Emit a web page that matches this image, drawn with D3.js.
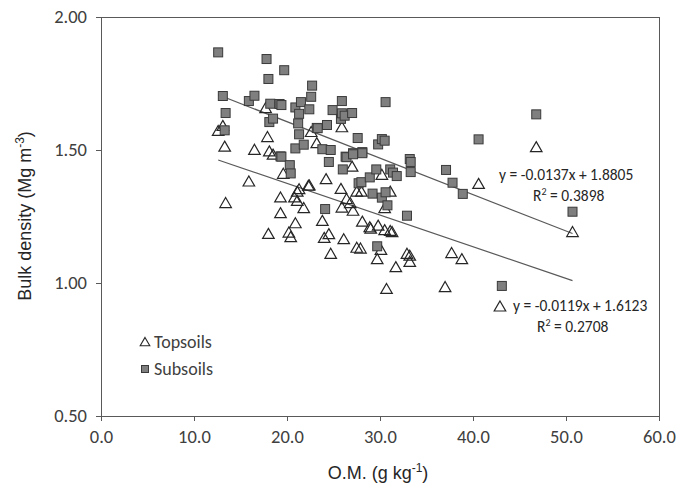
<!DOCTYPE html>
<html><head><meta charset="utf-8">
<script src="https://cdn.jsdelivr.net/npm/d3@7/dist/d3.min.js"></script>
<style>body{margin:0;background:#fff}svg{display:block}text{font-family:Carlito,Lato,"Open Sans",sans-serif}</style>
</head><body><svg id="c" width="682" height="489"></svg>
<script>
// Topsoils: organic matter (g/kg) and bulk density (Mg/m3)
const topOM = [12.6,13.1,13.3,13.4,15.9,16.5,17.7,17.9,18.0,18.1,18.5,19.3,19.3,19.6,20.2,20.4,20.8,20.9,21.1,21.1,21.3,21.8,22.3,22.4,22.6,23.2,23.8,24.0,24.2,24.5,24.7,25.8,25.9,25.9,26.1,26.4,26.8,27.0,27.1,27.5,27.5,27.9,28.0,28.1,28.9,29.0,29.7,29.8,30.1,30.2,30.5,30.5,30.7,31.1,31.1,31.3,31.7,32.9,33.2,33.2,37.0,37.7,38.8,40.6,42.9,46.8,50.7];
const topBD = [1.571,1.590,1.512,1.300,1.381,1.500,1.657,1.548,1.184,1.494,1.482,1.321,1.262,1.410,1.189,1.172,1.321,1.224,1.343,1.308,1.352,1.281,1.365,1.366,1.567,1.525,1.233,1.169,1.390,1.183,1.109,1.353,1.585,1.283,1.164,1.315,1.300,1.437,1.271,1.343,1.132,1.129,1.343,1.230,1.209,1.204,1.089,1.215,1.124,1.406,1.281,1.198,0.977,1.343,1.195,1.191,1.059,1.109,1.102,1.079,0.984,1.112,1.089,1.372,0.911,1.510,1.191];
// Subsoils
const subOM = [12.6,13.1,13.3,13.4,15.9,16.5,17.8,18.0,18.1,18.2,18.5,19.2,19.3,19.4,19.4,19.7,20.3,20.4,20.9,20.9,21.2,21.3,21.3,21.5,21.8,22.4,22.6,22.7,23.2,23.3,23.8,24.1,24.3,24.5,24.7,24.9,25.8,25.9,25.9,26.0,26.2,26.3,26.4,27.0,27.1,27.1,27.6,27.7,28.0,28.1,28.1,28.9,29.2,29.6,29.7,29.8,30.2,30.2,30.5,30.6,30.6,30.8,31.1,31.4,31.8,32.9,33.2,33.3,33.3,37.1,37.8,38.9,40.6,43.1,46.8,50.7];
const subBD = [1.867,1.703,1.574,1.639,1.684,1.704,1.842,1.767,1.605,1.674,1.618,1.673,1.476,1.669,1.475,1.800,1.443,1.412,1.660,1.506,1.600,1.636,1.559,1.680,1.520,1.653,1.700,1.742,1.583,1.582,1.503,1.278,1.594,1.455,1.500,1.650,1.617,1.684,1.638,1.427,1.629,1.475,1.473,1.639,1.488,1.484,1.545,1.375,1.379,1.492,1.488,1.397,1.336,1.427,1.138,1.521,1.541,1.321,1.535,1.680,1.341,1.292,1.427,1.415,1.402,1.253,1.466,1.455,1.417,1.425,1.377,1.335,1.540,0.989,1.634,1.268];
// Fitted trend lines (slope, intercept) and labels
const subFit = [-0.0137, 1.8805];
const topFit = [-0.0119, 1.6123];
const subLabels = ["y = -0.0137x + 1.8805", "0.3898"];
const topLabels = ["y = -0.0119x + 1.6123", "0.2708"];
const xTicks = [0,10,20,30,40,50,60];
const yTicks = [0.5,1.0,1.5,2.0];
const seriesNames = ["Topsoils","Subsoils"];

const svg = d3.select("#c");
const x = d3.scaleLinear().domain([0,60]).range([101,659]);
const y = d3.scaleLinear().domain([0.5,2.0]).range([416,17]);
const axisCol = "#595959", textCol = "#404040";
const cal = "Carlito,Lato,sans-serif", ari = "'Liberation Sans',Arial,sans-serif";

// frame
svg.append("rect").attr("x",x(0)).attr("y",y(2)).attr("width",x(60)-x(0)).attr("height",y(0.5)-y(2))
  .attr("fill","none").attr("stroke",axisCol).attr("stroke-width",1).attr("shape-rendering","crispEdges");

const gx = svg.append("g").attr("transform",`translate(0,${y(0.5)})`)
  .call(d3.axisBottom(x).tickValues(xTicks).tickFormat(d3.format(".1f")).tickSize(5).tickSizeOuter(0));
const gy = svg.append("g").attr("transform",`translate(${x(0)},0)`)
  .call(d3.axisLeft(y).tickValues(yTicks).tickFormat(d3.format(".2f")).tickSize(5).tickSizeOuter(0));
[gx,gy].forEach(g=>{
  g.select(".domain").attr("stroke",axisCol).attr("shape-rendering","crispEdges");
  g.selectAll(".tick line").attr("stroke",axisCol).attr("shape-rendering","crispEdges");
  g.selectAll(".tick text").attr("fill",textCol).style("font-size","18.5px").style("font-family",cal);
});
gx.selectAll(".tick text").attr("y",27).attr("dy",0);
gy.selectAll(".tick text").attr("x",-14);

// trend lines
function fitLine(om, fit){
  const [a,b] = d3.extent(om);
  svg.append("line").attr("x1",x(a)).attr("y1",y(fit[0]*a+fit[1]))
    .attr("x2",x(b)).attr("y2",y(fit[0]*b+fit[1]))
    .attr("stroke","#595959").attr("stroke-width",1.2);
}
fitLine(subOM, subFit);
fitLine(topOM, topFit);

// markers
const tri = d3.symbol().type(d3.symbolTriangle).size(58);
svg.append("g").selectAll("path").data(topOM.map((v,i)=>[v,topBD[i]])).join("path")
  .attr("d",tri).attr("transform",d=>`translate(${x(d[0])},${y(d[1])+1})`)
  .attr("fill","none").attr("stroke","#262626").attr("stroke-width",1.2);
svg.append("g").selectAll("rect").data(subOM.map((v,i)=>[v,subBD[i]])).join("rect")
  .attr("x",d=>x(d[0])-4.5).attr("y",d=>y(d[1])-4.5).attr("width",9).attr("height",9)
  .attr("fill","#7f7f7f").attr("stroke","#3a3a3a").attr("stroke-width",1);

// equations
function eq(lbl, ex, ey, rx, ry){
  svg.append("text").attr("x",ex).attr("y",ey).attr("fill","#262626").style("font-size","15.5px").text(lbl[0]);
  const t = svg.append("text").attr("x",rx).attr("y",ry).attr("fill","#262626").style("font-size","15.5px");
  t.append("tspan").text("R");
  t.append("tspan").attr("dy",-6).style("font-size","10px").text("2");
  t.append("tspan").attr("dy",6).text(" = "+lbl[1]);
}
eq(subLabels, 499, 180, 533, 201);
eq(topLabels, 513, 311, 537, 332);

// legend
svg.append("path").attr("d",d3.symbol().type(d3.symbolTriangle).size(40)).attr("transform","translate(145,343)")
  .attr("fill","none").attr("stroke","#262626").attr("stroke-width",1.1);
svg.append("text").attr("x",154).attr("y",348).attr("fill",textCol).style("font-size","18px").text(seriesNames[0]);
svg.append("rect").attr("x",141.5).attr("y",365.5).attr("width",7).attr("height",7)
  .attr("fill","#7f7f7f").attr("stroke","#3a3a3a");
svg.append("text").attr("x",154).attr("y",375).attr("fill",textCol).style("font-size","18px").text(seriesNames[1]);

// axis titles
const xt = svg.append("text").attr("x",378).attr("y",479).attr("text-anchor","middle").attr("fill","#262626")
  .style("font-size","18px").style("font-family",ari);
xt.append("tspan").text("O.M. (g kg");
xt.append("tspan").attr("dy",-7).style("font-size","12px").text("-1");
xt.append("tspan").attr("dy",7).text(")");
const yt = svg.append("text").attr("transform","translate(31,216) rotate(-90)").attr("text-anchor","middle").attr("fill","#262626")
  .style("font-size","18px").style("font-family",ari);
yt.append("tspan").text("Bulk density (Mg m");
yt.append("tspan").attr("dy",-7).style("font-size","12px").text("-3");
yt.append("tspan").attr("dy",7).text(")");
</script></body></html>
